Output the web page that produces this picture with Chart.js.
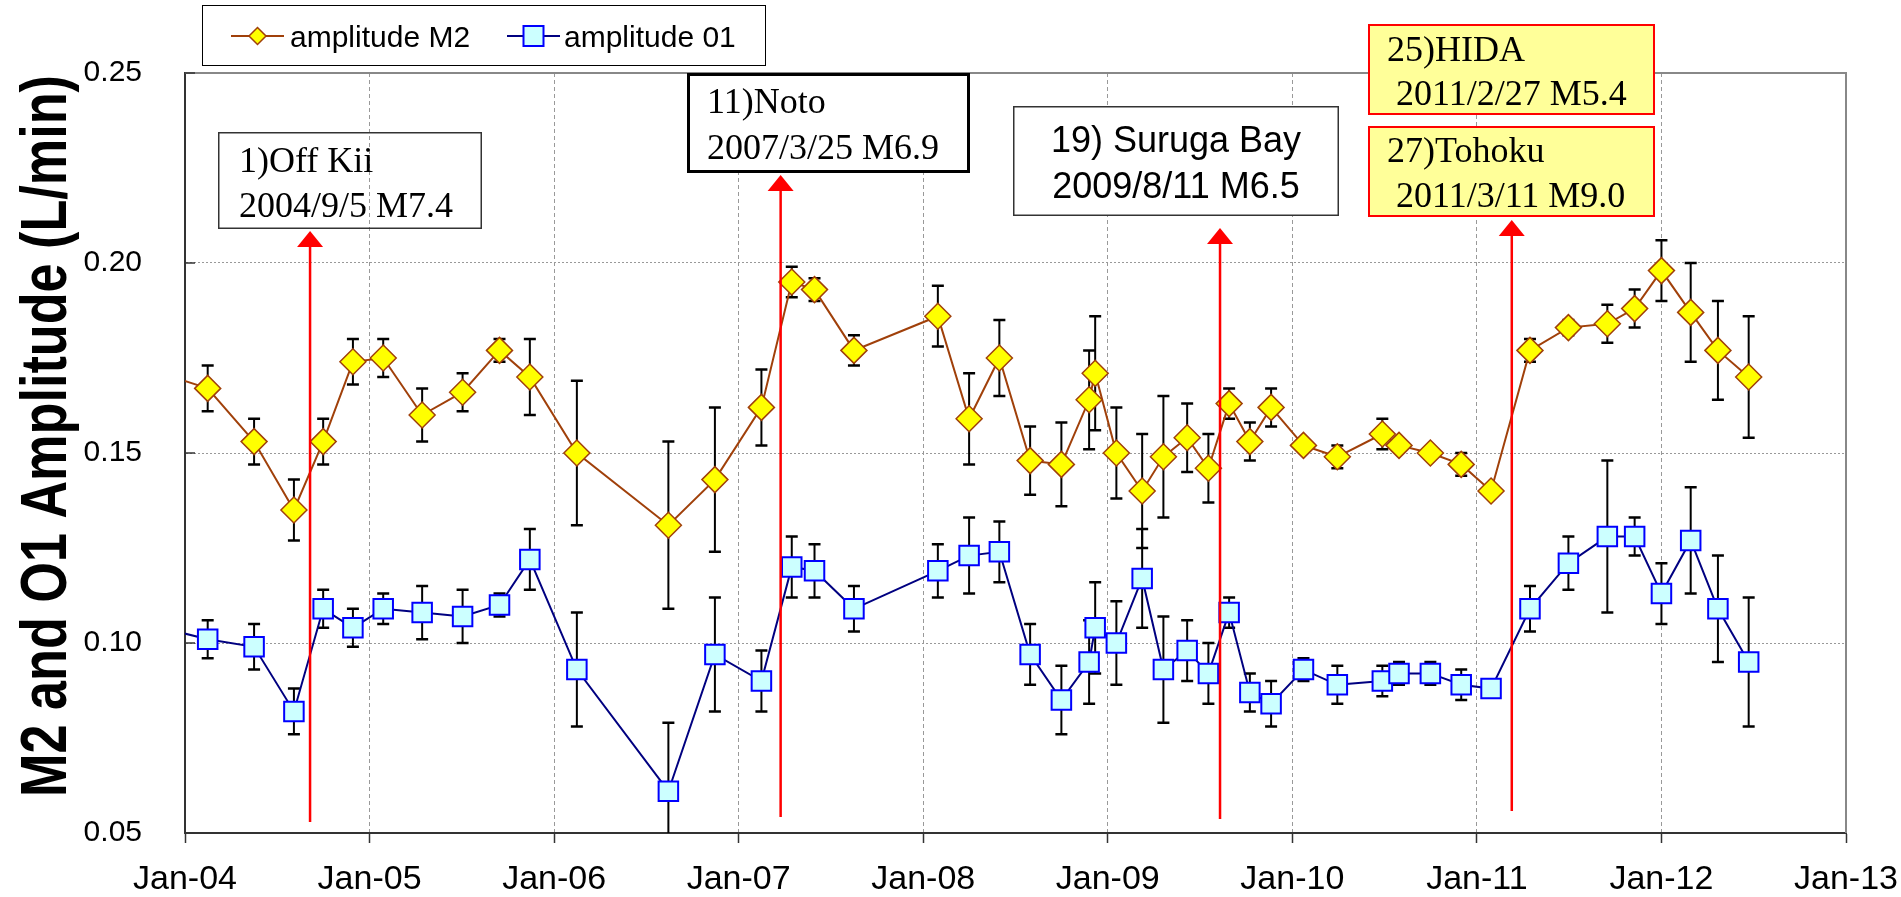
<!DOCTYPE html>
<html>
<head>
<meta charset="utf-8">
<title>M2 and O1 amplitude</title>
<script src="https://cdn.jsdelivr.net/npm/chart.js@4.4.1/dist/chart.umd.min.js"></script>
<style>
  html, body { margin: 0; padding: 0; background: #fff; }
  canvas { display: block; }
</style>
</head>
<body>
<canvas id="ampChart" width="1901" height="897"></canvas>
<script>
// dates of the amplitude estimates (first one sits just before Jan-04)
const sampleDates = [
  "2003-11-15", "2004-02-15", "2004-05-17", "2004-08-04", "2004-10-01", "2004-11-29",
  "2005-01-28", "2005-04-15", "2005-07-04", "2005-09-15", "2005-11-14", "2006-02-15",
  "2006-08-15", "2006-11-15", "2007-02-15", "2007-04-16", "2007-05-31", "2007-08-17",
  "2008-01-30", "2008-04-01", "2008-05-31", "2008-07-31", "2008-10-01", "2008-11-25",
  "2008-12-07", "2009-01-18", "2009-03-10", "2009-04-21", "2009-06-07", "2009-07-19",
  "2009-08-29", "2009-10-09", "2009-11-20", "2010-01-23", "2010-03-31", "2010-06-28",
  "2010-07-31", "2010-10-01", "2010-12-01", "2011-01-29", "2011-04-16", "2011-07-01",
  "2011-09-16", "2011-11-09", "2012-01-01", "2012-02-28", "2012-04-22", "2012-06-22"
];

const m2Amp = [
  0.171, 0.167, 0.153, 0.135, 0.153, 0.174,
  0.175, 0.160, 0.166, 0.177, 0.170, 0.150,
  0.131, 0.143, 0.162, 0.195, 0.193, 0.177,
  0.186, 0.159, 0.175, 0.148, 0.147, 0.164,
  0.171, 0.150, 0.140, 0.149, 0.154, 0.146,
  0.163, 0.153, 0.162, 0.152, 0.149, 0.155,
  0.152, 0.150, 0.147, 0.140, 0.177, 0.183,
  0.184, 0.188, 0.198, 0.187, 0.177, 0.170
];
const m2Err = [
  0.006, 0.006, 0.006, 0.008, 0.006, 0.006,
  0.005, 0.007, 0.005, 0.003, 0.010, 0.019,
  0.022, 0.019, 0.010, 0.004, 0.003, 0.004,
  0.008, 0.012, 0.010, 0.009, 0.011, 0.013,
  0.015, 0.012, 0.015, 0.016, 0.009, 0.009,
  0.004, 0.005, 0.005, 0.001, 0.003, 0.004,
  0.001, 0.001, 0.003, 0.001, 0.003, 0.002,
  0.005, 0.005, 0.008, 0.013, 0.013, 0.016
];

const o1Amp = [
  0.104, 0.101, 0.099, 0.082, 0.109, 0.104,
  0.109, 0.108, 0.107, 0.110, 0.122, 0.093,
  0.061, 0.097, 0.090, 0.120, 0.119, 0.109,
  0.119, 0.123, 0.124, 0.097, 0.085, 0.095,
  0.104, 0.100, 0.117, 0.093, 0.098, 0.092,
  0.108, 0.087, 0.084, 0.093, 0.089, 0.090,
  0.092, 0.092, 0.089, 0.088, 0.109, 0.121,
  0.128, 0.128, 0.113, 0.127, 0.109, 0.095
];
const o1Err = [
  0.005, 0.005, 0.006, 0.006, 0.005, 0.005,
  0.004, 0.007, 0.007, 0.003, 0.008, 0.015,
  0.018, 0.015, 0.008, 0.008, 0.007, 0.006,
  0.007, 0.010, 0.008, 0.008, 0.009, 0.011,
  0.012, 0.011, 0.013, 0.014, 0.008, 0.008,
  0.004, 0.005, 0.006, 0.003, 0.005, 0.004,
  0.003, 0.003, 0.004, 0.002, 0.006, 0.007,
  0.020, 0.005, 0.008, 0.014, 0.014, 0.017
];

const yearLabels = ["Jan-04", "Jan-05", "Jan-06", "Jan-07", "Jan-08",
                    "Jan-09", "Jan-10", "Jan-11", "Jan-12", "Jan-13"];

// earthquakes marked on the chart
const quakeLabels = ["1)Off Kii", "11)Noto", "19) Suruga Bay", "25)HIDA", "27)Tohoku"];
const quakeDates = ["2004/9/5", "2007/3/25", "2009/8/11", "2011/2/27", "2011/3/11"];
const quakeMags = ["M7.4", "M6.9", "M6.5", "M5.4", "M9.0"];

// callout boxes, same order as the quakes
const callouts = [
  { x: 218, y: 132, w: 264, h: 97, fill: null, stroke: "#333", lw: 1.5, serif: true,
    textX: 21, base1: 40, base2: 85, indent: "", arrow: { tip: 231, end: 822 } },
  { x: 687, y: 73, w: 283, h: 100, fill: "#fff", stroke: "#000", lw: 3, serif: true,
    textX: 20, base1: 40, base2: 86, indent: "", arrow: { tip: 175, end: 817 } },
  { x: 1013, y: 106, w: 326, h: 110, fill: "#fff", stroke: "#333", lw: 1.5, serif: false,
    center: true, base1: 46, base2: 92, indent: "", arrow: { tip: 228, end: 819 } },
  { x: 1368, y: 24, w: 287, h: 91, fill: "#ffff99", stroke: "#ff0000", lw: 2, serif: true,
    textX: 19, base1: 37, base2: 81, indent: " ", arrow: null },
  { x: 1368, y: 126, w: 287, h: 91, fill: "#ffff99", stroke: "#ff0000", lw: 2, serif: true,
    textX: 19, base1: 36, base2: 81, indent: " ", arrow: { tip: 220, end: 811 } }
];

function toYear(s) {
  const [y, m, d] = s.split(/[-\/]/).map(Number);
  const start = Date.UTC(y, 0, 1);
  const end = Date.UTC(y + 1, 0, 1);
  return y + (Date.UTC(y, m - 1, d) - start) / (end - start);
}

const SANS = "'Liberation Sans', Arial, sans-serif";
const SERIF = "'Liberation Serif', 'Times New Roman', serif";

// vertical error bars with caps, drawn under the markers
const errorBars = {
  id: "errorBars",
  beforeDatasetsDraw(chart) {
    const { ctx, chartArea: a } = chart;
    const ys = chart.scales.y;
    ctx.save();
    ctx.beginPath();
    ctx.rect(a.left, a.top, a.width, a.height);
    ctx.clip();
    ctx.strokeStyle = "#000";
    chart.data.datasets.forEach((ds, di) => {
      const meta = chart.getDatasetMeta(di);
      meta.data.forEach((pt, i) => {
        const v = ds.data[i].y, e = ds.errors[i];
        const top = ys.getPixelForValue(v + e);
        const bot = ys.getPixelForValue(v - e);
        ctx.lineWidth = 2;
        ctx.beginPath();
        ctx.moveTo(pt.x, top);
        ctx.lineTo(pt.x, bot);
        ctx.stroke();
        ctx.lineWidth = 2.5;
        ctx.beginPath();
        ctx.moveTo(pt.x - 6, top);
        ctx.lineTo(pt.x + 6, top);
        ctx.moveTo(pt.x - 6, bot);
        ctx.lineTo(pt.x + 6, bot);
        ctx.stroke();
      });
    });
    ctx.restore();
  }
};

// gray top/right frame and short inner ticks on the value axis
const frame = {
  id: "frame",
  beforeDatasetsDraw(chart) {
    const { ctx, chartArea: a } = chart;
    ctx.save();
    ctx.strokeStyle = "#888";
    ctx.lineWidth = 2;
    ctx.beginPath();
    ctx.moveTo(a.left, a.top);
    ctx.lineTo(a.right, a.top);
    ctx.lineTo(a.right, a.bottom);
    ctx.stroke();
    ctx.strokeStyle = "#333";
    ctx.lineWidth = 1.5;
    chart.scales.y.ticks.forEach(t => {
      const py = chart.scales.y.getPixelForValue(t.value);
      ctx.beginPath();
      ctx.moveTo(a.left, py);
      ctx.lineTo(a.left + 10, py);
      ctx.stroke();
    });
    ctx.restore();
  }
};

// red arrows at the quake dates
const quakeArrows = {
  id: "quakeArrows",
  afterDatasetsDraw(chart) {
    const { ctx } = chart;
    const xs = chart.scales.x;
    ctx.save();
    ctx.strokeStyle = "#ff0000";
    ctx.fillStyle = "#ff0000";
    ctx.lineWidth = 2.5;
    quakeDates.forEach((d, i) => {
      const arrow = callouts[i].arrow;
      if (!arrow) return;
      const px = xs.getPixelForValue(toYear(d));
      ctx.beginPath();
      ctx.moveTo(px, arrow.tip + 14);
      ctx.lineTo(px, arrow.end);
      ctx.stroke();
      ctx.beginPath();
      ctx.moveTo(px, arrow.tip);
      ctx.lineTo(px + 13, arrow.tip + 16);
      ctx.lineTo(px - 13, arrow.tip + 16);
      ctx.closePath();
      ctx.fill();
    });
    ctx.restore();
  }
};

// quake callouts, legend box and the value-axis title
const overlay = {
  id: "overlay",
  afterDraw(chart) {
    const { ctx } = chart;
    ctx.save();

    callouts.forEach((c, i) => {
      if (c.fill) {
        ctx.fillStyle = c.fill;
        ctx.fillRect(c.x, c.y, c.w, c.h);
      }
      ctx.strokeStyle = c.stroke;
      ctx.lineWidth = c.lw;
      ctx.strokeRect(c.x + c.lw / 2, c.y + c.lw / 2, c.w - c.lw, c.h - c.lw);
      ctx.fillStyle = "#000";
      ctx.font = c.serif ? "36px " + SERIF : "36px " + SANS;
      ctx.textBaseline = "alphabetic";
      const line2 = c.indent + quakeDates[i] + " " + quakeMags[i];
      if (c.center) {
        ctx.textAlign = "center";
        ctx.fillText(quakeLabels[i], c.x + c.w / 2, c.y + c.base1);
        ctx.fillText(line2, c.x + c.w / 2, c.y + c.base2);
      } else {
        ctx.textAlign = "left";
        ctx.fillText(quakeLabels[i], c.x + c.textX, c.y + c.base1);
        ctx.fillText(line2, c.x + c.textX, c.y + c.base2);
      }
    });

    // legend
    ctx.strokeStyle = "#000";
    ctx.lineWidth = 1;
    ctx.strokeRect(202.5, 5.5, 563, 60);
    const items = [
      { x: 231, textX: 290 },
      { x: 507, textX: 564 }
    ];
    chart.data.datasets.forEach((ds, i) => {
      const it = items[i];
      const cy = 36, cx = it.x + 26.5;
      ctx.strokeStyle = ds.borderColor;
      ctx.lineWidth = 2;
      ctx.beginPath();
      ctx.moveTo(it.x, cy);
      ctx.lineTo(it.x + 53, cy);
      ctx.stroke();
      ctx.fillStyle = ds.pointBackgroundColor;
      ctx.strokeStyle = ds.pointBorderColor;
      ctx.lineWidth = ds.pointBorderWidth;
      ctx.beginPath();
      if (ds.pointStyle === "rectRot") {
        ctx.moveTo(cx - 8.5, cy);
        ctx.lineTo(cx, cy - 8.5);
        ctx.lineTo(cx + 8.5, cy);
        ctx.lineTo(cx, cy + 8.5);
        ctx.closePath();
      } else {
        ctx.rect(cx - 10, cy - 10, 20, 20);
      }
      ctx.fill();
      ctx.stroke();
      ctx.fillStyle = "#000";
      ctx.font = "30px " + SANS;
      ctx.textAlign = "left";
      ctx.fillText(ds.label, it.textX, 47);
    });

    // value axis title
    ctx.translate(66, 436);
    ctx.rotate(-Math.PI / 2);
    ctx.font = "bold 64px " + SANS;
    ctx.textAlign = "center";
    ctx.textBaseline = "alphabetic";
    ctx.fillStyle = "#000";
    ctx.fillText("M2 and O1 Amplitude (L/min)", 0, 0, 722);
    ctx.restore();
  }
};

const toPoints = vals => sampleDates.map((d, i) => ({ x: toYear(d), y: vals[i] }));

new Chart(document.getElementById("ampChart"), {
  type: "line",
  data: {
    datasets: [
      {
        label: "amplitude M2",
        data: toPoints(m2Amp),
        errors: m2Err,
        borderColor: "#a0400a",
        borderWidth: 2,
        pointStyle: "rectRot",
        pointRadius: 13,
        pointBackgroundColor: "#ffff00",
        pointBorderColor: "#a0400a",
        pointBorderWidth: 1.5,
        tension: 0
      },
      {
        label: "amplitude 01",
        data: toPoints(o1Amp),
        errors: o1Err,
        borderColor: "#000080",
        borderWidth: 2,
        pointStyle: "rect",
        pointRadius: 13.8,
        pointBackgroundColor: "#ccffff",
        pointBorderColor: "#0000ff",
        pointBorderWidth: 2,
        tension: 0
      }
    ]
  },
  options: {
    responsive: false,
    animation: false,
    events: [],
    layout: { padding: { top: 73, right: 55, bottom: 0, left: 0 } },
    plugins: {
      legend: { display: false },
      tooltip: { enabled: false }
    },
    scales: {
      x: {
        type: "linear",
        min: 2004,
        max: 2013,
        afterFit: scale => {
          scale.height = 64;
          scale.paddingLeft = 0;
          scale.paddingRight = 0;
        },
        ticks: {
          stepSize: 1,
          padding: 16,
          color: "#000",
          font: { family: SANS, size: 34 },
          callback: v => yearLabels[v - 2004]
        },
        grid: { color: "#999", lineWidth: 1, tickLength: 10, tickColor: "#333", tickWidth: 1.5 },
        border: { color: "#333", width: 2, dash: [4, 3] }
      },
      y: {
        min: 0.05,
        max: 0.25,
        afterFit: scale => { scale.width = 185; },
        ticks: {
          stepSize: 0.05,
          padding: 43,
          color: "#000",
          font: { family: SANS, size: 30 },
          callback: v => v.toFixed(2)
        },
        grid: { color: "#999", lineWidth: 1, drawTicks: false },
        border: { color: "#333", width: 2, dash: [2, 2] }
      }
    }
  },
  plugins: [frame, errorBars, quakeArrows, overlay]
});
</script>
</body>
</html>
